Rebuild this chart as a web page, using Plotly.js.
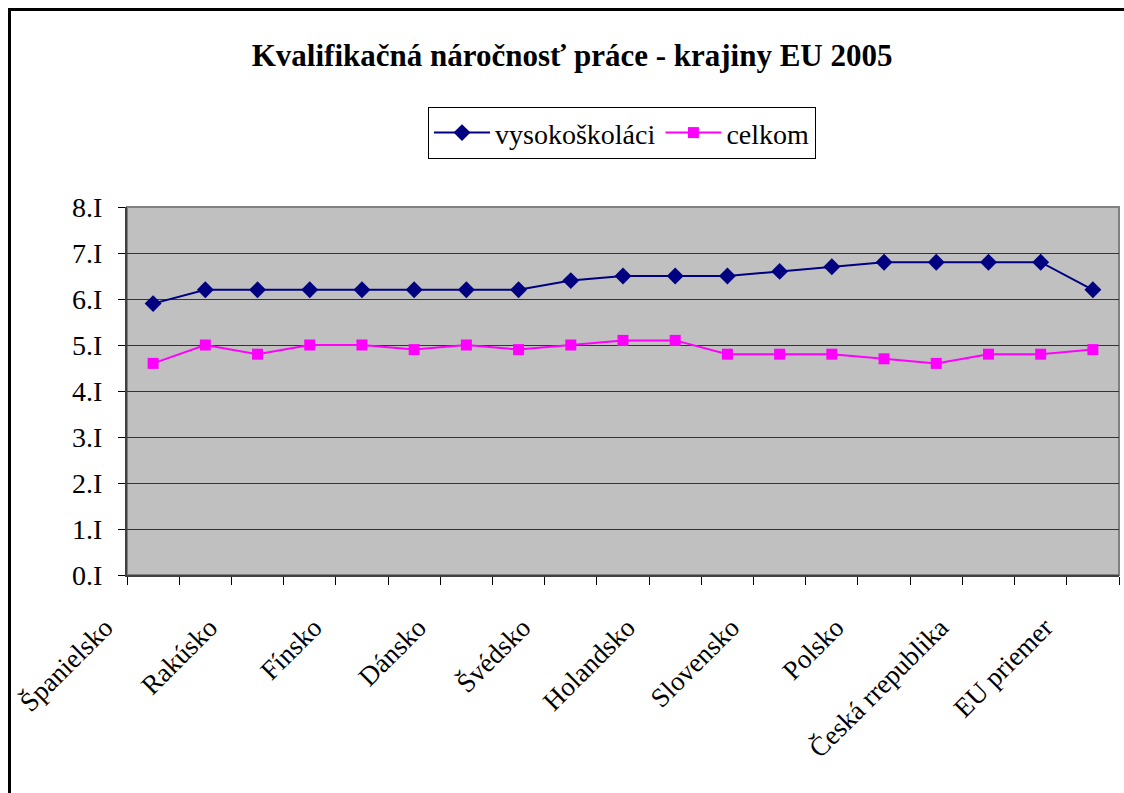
<!DOCTYPE html>
<html>
<head>
<meta charset="utf-8">
<script src="https://cdn.plot.ly/plotly-3.0.1.min.js"></script>
<style>
html,body{margin:0;padding:0;background:#fff;}
#wrap{position:relative;width:1124px;height:793px;overflow:hidden;}
#chart{width:1124px;height:793px;}
#frame{position:absolute;left:8px;top:8px;width:1300px;height:1000px;border:3px solid #000;pointer-events:none;}
</style>
</head>
<body>
<div id="wrap"><div id="chart"></div><div id="frame"></div></div>
<script>
// Category labels shown on the axis (every other category is labelled in the original)
const labelIndex = [0, 2, 4, 6, 8, 10, 12, 14, 16, 18];
const labels = ["Španielsko", "Rakúsko", "Fínsko", "Dánsko", "Švédsko", "Holandsko", "Slovensko", "Polsko", "Česká rrepublika", "EU priemer"];
const idx = [0,1,2,3,4,5,6,7,8,9,10,11,12,13,14,15,16,17,18];
const vysokoskolaci = [5.9, 6.2, 6.2, 6.2, 6.2, 6.2, 6.2, 6.2, 6.4, 6.5, 6.5, 6.5, 6.6, 6.7, 6.8, 6.8, 6.8, 6.8, 6.2];
const celkom = [4.6, 5.0, 4.8, 5.0, 5.0, 4.9, 5.0, 4.9, 5.0, 5.1, 5.1, 4.8, 4.8, 4.8, 4.7, 4.6, 4.8, 4.8, 4.9];
const yTickVals = [0,1,2,3,4,5,6,7,8];
const yTickText = ["0.I","1.I","2.I","3.I","4.I","5.I","6.I","7.I","8.I"];

const serif = "Liberation Serif";

const traces = [
  {x: idx, y: vysokoskolaci, name: "vysokoškoláci", type: "scatter", mode: "lines+markers",
   line: {color: "#000080", width: 2}, marker: {symbol: "diamond", size: 13, color: "#000080"}},
  {x: idx, y: celkom, name: "celkom", type: "scatter", mode: "lines+markers",
   line: {color: "#FF00FF", width: 2}, marker: {symbol: "square", size: 11, color: "#FF00FF"}}
];

const layout = {
  width: 1124, height: 793,
  margin: {l: 127, r: 5, t: 207, b: 218},
  paper_bgcolor: "#ffffff",
  plot_bgcolor: "#C0C0C0",
  font: {family: serif, color: "#000", size: 27},
  title: {text: "<b>Kvalifikačná náročnosť práce - krajiny EU 2005</b>", font: {family: serif, size: 31, color: "#000"},
          x: 0.509, xanchor: "center", y: 0.931, yanchor: "middle"},
  showlegend: true,
  legend: {orientation: "h", x: 0.499, xanchor: "center", y: 1.272, yanchor: "top", itemwidth: 56,
           bordercolor: "#000", borderwidth: 1, bgcolor: "#fff", font: {family: serif, size: 28, color: "#000"}},
  xaxis: {range: [-0.5, 18.5], tickmode: "array", tickvals: labelIndex, ticktext: labels,
          tickangle: -45, ticks: "", showgrid: false, zeroline: false,
          showline: true, linecolor: "#404040", linewidth: 2,
          tickfont: {family: serif, size: 27, color: "#000"}, ticklabelstandoff: 24, ticklabelshift: -48,
          minor: {tickmode: "linear", tick0: 0.5, dtick: 1, ticks: "outside", ticklen: 8, tickcolor: "#000", tickwidth: 1, showgrid: false}},
  yaxis: {range: [0, 8], tickmode: "array", tickvals: yTickVals, ticktext: yTickText,
          ticks: "outside", ticklen: 7, tickcolor: "#000", tickwidth: 1,
          showgrid: true, gridcolor: "#333333", gridwidth: 1, zeroline: false,
          showline: true, linecolor: "#404040", linewidth: 2,
          tickfont: {family: serif, size: 28, color: "#000"}, ticklabelstandoff: 10},
  shapes: [{type: "rect", xref: "paper", yref: "paper", x0: 0, x1: 1, y0: 0, y1: 1,
            line: {color: "#808080", width: 2}, layer: "below"}]
};

Plotly.newPlot("chart", traces, layout, {displayModeBar: false, staticPlot: true});
</script>
</body>
</html>
